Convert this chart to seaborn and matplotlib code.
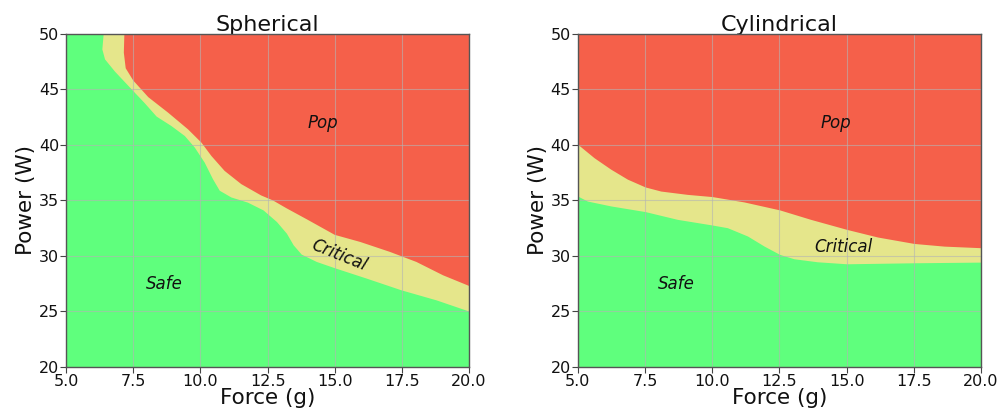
import numpy as np
import matplotlib
matplotlib.use("Agg")
import matplotlib.pyplot as plt
import seaborn as sns

# ---- data: boundary curves (Force g, Power W) ----
sph_safe_x = [6.4, 6.35, 6.45, 6.82, 7.5, 7.93, 8.37, 8.92, 9.42, 9.79, 10.16, 10.47, 10.72, 11.15,
              11.77, 12.35, 12.85, 13.22, 13.47, 13.77, 14.33, 15.0, 16.19, 17.49, 18.79, 20.0]
sph_safe_y = [50.0, 48.6, 47.7, 46.6, 44.85, 43.75, 42.55, 41.7, 40.8, 39.76, 38.4, 36.9, 35.87, 35.27,
              34.8, 34.1, 33.05, 32.0, 30.96, 30.12, 29.46, 28.9, 27.96, 26.9, 26.0, 25.0]
sph_pop_x = [7.17, 7.15, 7.22, 7.5, 8.06, 8.8, 9.54, 10.04, 10.41, 10.9, 11.52, 12.26, 12.7,
             13.2, 13.96, 15.0, 15.95, 17.06, 18.04, 19.03, 20.0]
sph_pop_y = [50.0, 48.3, 46.9, 45.8, 44.3, 42.9, 41.4, 40.2, 39.0, 37.66, 36.47, 35.45, 35.0,
             34.3, 33.3, 31.9, 31.26, 30.36, 29.46, 28.26, 27.3]

cyl_safe_x = [5.0, 5.37, 6.24, 7.52, 8.72, 10.02, 10.58, 11.33, 11.95, 12.53, 13.06, 13.93, 15.02, 17.53, 20.0]
cyl_safe_y = [35.36, 34.9, 34.46, 33.95, 33.25, 32.74, 32.5, 31.75, 30.84, 30.09, 29.7, 29.43, 29.25, 29.34, 29.4]
cyl_pop_x = [5.0, 5.62, 6.24, 6.86, 7.52, 8.1, 9.09, 10.02, 11.2, 12.53, 13.68, 15.02, 16.17, 17.53, 18.65, 20.0]
cyl_pop_y = [40.03, 38.8, 37.77, 36.87, 36.17, 35.8, 35.5, 35.3, 34.82, 34.1, 33.25, 32.35, 31.66, 31.08, 30.84, 30.7]

titles = ["Spherical", "Cylindrical"]
region_labels = ["Safe", "Critical", "Pop"]
sph_label_pos = [(8.67, 27.5, 0), (15.15, 30.1, -22), (14.57, 42.0, 0)]
cyl_label_pos = [(8.66, 27.5, 0), (14.87, 30.77, 0), (14.59, 42.0, 0)]

xlim = (5.0, 20.0)
ylim = (20, 50)

GREEN = "#5fff7d"
YELLOW = "#e5e68b"
RED = "#f5604a"

sns.set_theme(style="white")
plt.rcParams["font.family"] = ["DejaVu Sans"]

fig, axes = plt.subplots(1, 2, figsize=(10.01, 4.18), dpi=100)
fig.subplots_adjust(left=0.066, right=0.98, bottom=0.122, top=0.919, wspace=0.27)


def draw(ax, safe_x, safe_y, pop_x, pop_y, title, label_pos):
    x0, x1 = xlim
    y0, y1 = ylim
    ax.fill([x0, x1, x1, x0], [y0, y0, y1, y1], color=YELLOW, lw=0, zorder=1)
    if safe_x[0] > x0:
        sx = [x0] + list(safe_x) + [x1, x0]
        sy = [y1] + list(safe_y) + [y0, y0]
    else:
        sx = list(safe_x) + [x1, x0]
        sy = list(safe_y) + [y0, y0]
    ax.fill(sx, sy, color=GREEN, lw=0, zorder=2)
    if pop_x[0] > x0:
        px = list(pop_x) + [x1, x1]
        py = list(pop_y) + [y1, y1]
    else:
        px = list(pop_x) + [x1, x1, x0]
        py = list(pop_y) + [y1, y1, y1]
    ax.fill(px, py, color=RED, lw=0, zorder=2)
    ax.set_xlim(xlim)
    ax.set_ylim(ylim)
    ax.set_xticks(np.arange(5.0, 20.01, 2.5))
    ax.set_yticks(np.arange(20, 51, 5))
    ax.xaxis.set_major_formatter(matplotlib.ticker.FormatStrFormatter("%.1f"))
    ax.grid(True, color="#b4b4b4", lw=0.8, alpha=0.6, zorder=3)
    ax.set_axisbelow(False)
    ax.tick_params(axis="both", labelsize=11.5, length=4, width=0.8,
                   color="#444444", bottom=True, left=True, pad=1, labelcolor="#111111")
    for sp in ax.spines.values():
        sp.set_color("#555555")
        sp.set_linewidth(1.0)
        sp.set_zorder(5)
    ax.set_title(title, fontsize=16, pad=2, color="#111111")
    ax.set_xlabel("Force (g)", fontsize=15.5, labelpad=-1, color="#111111")
    ax.set_ylabel("Power (W)", fontsize=15.5, labelpad=2, color="#111111")
    for lab, (lx, ly, rot) in zip(region_labels, label_pos):
        ax.text(lx, ly, lab, fontsize=12, style="italic", ha="center", va="center",
                rotation=rot, rotation_mode="anchor", color="#111111", zorder=6)


draw(axes[0], sph_safe_x, sph_safe_y, sph_pop_x, sph_pop_y, titles[0], sph_label_pos)
draw(axes[1], cyl_safe_x, cyl_safe_y, cyl_pop_x, cyl_pop_y, titles[1], cyl_label_pos)

fig.savefig("out.png", dpi=100)
